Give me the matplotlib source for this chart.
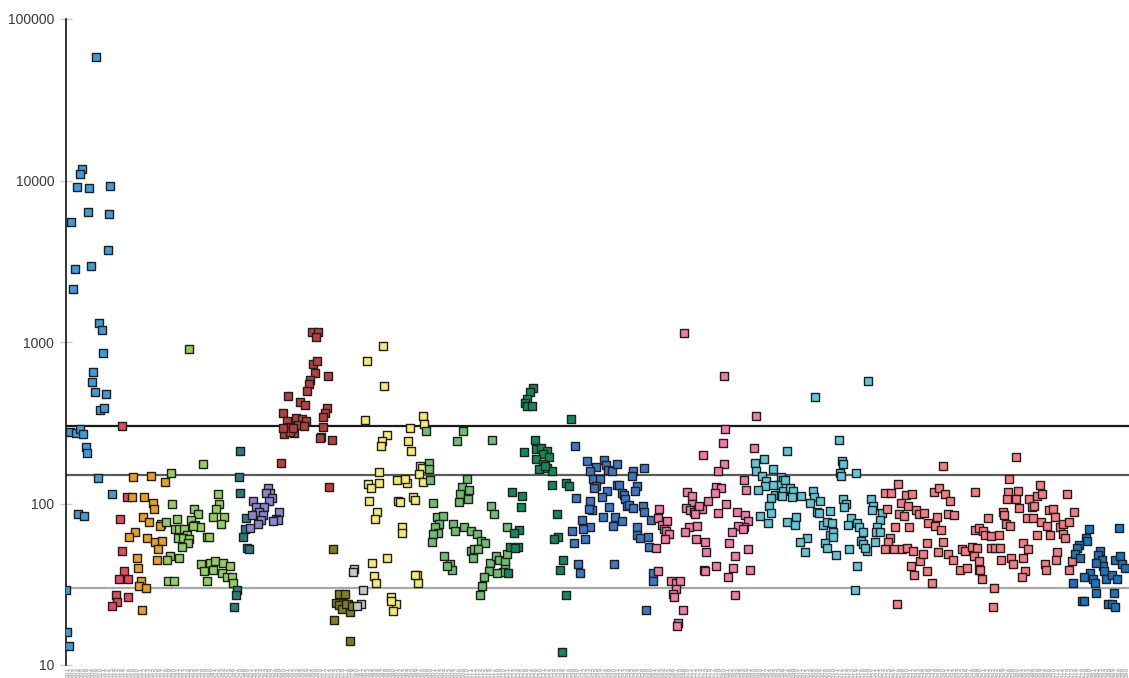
import matplotlib
matplotlib.use("Agg")
import numpy as np
import matplotlib.pyplot as plt
from matplotlib.ticker import FixedLocator, FixedFormatter, NullLocator

# Each array holds (sample index, measured value) pairs for one cluster of samples.
sky = np.array([
    (8.2, 58000), (4.3, 11800), (3.9, 10900), (3.0, 9100), (6.3, 9000), (12.0, 9200),
    (6.0, 6400), (11.7, 6200), (1.4, 5500), (11.4, 3700), (6.8, 2950), (2.4, 2830),
    (1.9, 2130), (8.9, 1310), (9.8, 1190), (10.2, 855), (7.4, 652), (7.2, 565),
    (7.9, 490), (11.0, 476), (9.4, 380), (10.4, 390), (1.1, 277), (2.6, 273),
    (3.8, 289), (4.7, 269), (5.4, 224), (5.6, 205), (8.7, 144), (12.5, 114),
    (3.3, 86), (4.9, 84), (0.0, 29), (0.3, 16), (0.8, 13.1),
])
red = np.array([
    (15.2, 300), (16.6, 110), (14.8, 80), (15.4, 51), (15.8, 38), (14.4, 34),
    (16.8, 34), (13.6, 27), (14.0, 24.4), (12.6, 23.3), (17.0, 26.5),
])
orange = np.array([
    (18.4, 145), (23.2, 149), (27.1, 135), (17.9, 110), (21.4, 110), (23.6, 101),
    (24.1, 93), (21.1, 83), (22.7, 77), (26.0, 75), (25.7, 73), (18.8, 67),
    (17.3, 62), (22.1, 61), (24.4, 58), (26.3, 59), (25.1, 52), (19.3, 46),
    (24.7, 45), (19.6, 40), (20.4, 33), (19.9, 31), (21.9, 30), (20.6, 22),
])
lime = np.array([
    (37.3, 175), (28.6, 155), (29.0, 99), (27.4, 77), (30.2, 80), (29.7, 70),
    (30.9, 70), (32.3, 70), (32.9, 64), (30.5, 61), (32.0, 61), (33.6, 60),
    (33.2, 57), (31.7, 54), (34.9, 92), (36.1, 86), (34.1, 79), (35.2, 74),
    (36.6, 72), (34.6, 73), (41.4, 114), (41.8, 100), (40.9, 92), (43.2, 83),
    (40.0, 83), (42.3, 75), (38.4, 62), (38.9, 62), (30.9, 46), (28.4, 47),
    (27.6, 45), (36.8, 42), (39.3, 43), (40.6, 44), (42.9, 43), (44.7, 41),
    (37.6, 38), (40.2, 39), (42.6, 37), (43.8, 35), (45.2, 35), (45.6, 32),
    (38.6, 33), (27.9, 33), (29.5, 33), (33.5, 900),
])
teal = np.array([
    (47.6, 210), (47.1, 145), (47.5, 116), (49.1, 81), (48.8, 70), (48.2, 62),
    (49.5, 53), (50.0, 52), (46.6, 29), (46.4, 27), (45.8, 23),
])
purple = np.array([
    (55.0, 124), (55.7, 116), (54.6, 116), (56.1, 108), (55.4, 103), (51.1, 103),
    (51.8, 95), (54.1, 95), (52.7, 89), (53.8, 85), (58.2, 89), (50.7, 85),
    (53.2, 79), (52.5, 75), (50.2, 71), (57.3, 80), (57.9, 79), (56.6, 78),
])
maroon = np.array([
    (67.1, 1150), (68.7, 1150), (68.2, 1070), (67.5, 730), (68.6, 760), (67.8, 640),
    (66.7, 580), (66.2, 550), (65.7, 500), (71.6, 620), (60.7, 460), (63.8, 426),
    (65.2, 407), (71.1, 388), (70.7, 361), (70.2, 341), (59.1, 365), (60.2, 322),
    (62.7, 339), (64.3, 335), (65.5, 324), (60.9, 298), (63.4, 306), (64.9, 302),
    (70.1, 298), (59.5, 268), (62.2, 272), (69.6, 259), (69.3, 253), (72.5, 247),
    (58.7, 177), (71.8, 126), (61.1, 278), (61.9, 293), (59.2, 293),
])
olive = np.array([
    (72.9, 52), (74.6, 27.5), (76.1, 27.5), (73.7, 24.3), (75.5, 24.3), (77.0, 23.8),
    (74.6, 23.5), (75.2, 22.1), (77.5, 21.3), (76.5, 24), (77.9, 23.2), (73.2, 19),
    (77.6, 14.1),
])
silver = np.array([
    (78.6, 39.3), (78.2, 37.5), (81.1, 29), (80.5, 24), (79.3, 23.3),
])
yellow = np.array([
    (86.6, 940), (82.0, 760), (86.8, 536), (81.6, 329), (87.5, 266), (86.3, 243),
    (86.0, 228), (85.5, 157), (85.3, 133), (82.5, 132), (83.1, 124), (90.2, 140),
    (90.5, 103), (82.7, 104), (84.9, 88), (84.2, 80), (83.6, 43), (87.7, 46),
    (84.0, 35.5), (84.5, 32), (88.7, 26.5), (89.9, 24), (89.3, 21.5), (88.6, 25),
    (97.4, 350), (97.7, 310), (93.8, 295), (93.3, 243), (94.1, 210), (96.6, 170),
    (97.1, 166), (96.4, 152), (97.3, 136), (92.9, 133), (92.5, 142), (94.6, 110),
    (95.2, 105), (91.1, 102), (91.7, 72), (91.8, 66), (95.7, 36), (96.0, 32),
    (95.2, 36),
])
green = np.array([
    (98.2, 280), (108.2, 280), (106.8, 243), (116.2, 248), (98.9, 179), (99.1, 163),
    (99.3, 140), (109.3, 142), (107.9, 126), (109.9, 121), (107.5, 114), (109.6, 107),
    (107.2, 102), (100.2, 101), (115.9, 97), (116.7, 86), (101.1, 83), (102.8, 84),
    (101.8, 75), (100.6, 72), (101.5, 66), (100.2, 65), (99.8, 58), (105.6, 75),
    (106.1, 68), (108.6, 72), (110.4, 68), (112.0, 65), (113.1, 59), (114.3, 57),
    (120.4, 72), (110.5, 51), (111.3, 52), (112.5, 52), (111.0, 46), (103.0, 47),
    (104.8, 42), (105.3, 39), (103.9, 41), (115.7, 43), (115.3, 38), (114.0, 35),
    (113.6, 31), (113.0, 27), (117.3, 47), (118.1, 45), (119.8, 41), (119.1, 37.5),
    (117.5, 37), (119.8, 44), (120.2, 49),
])
emerald = np.array([
    (127.5, 520), (126.6, 490), (125.7, 445), (125.2, 420), (125.7, 400), (127.2, 400),
    (137.7, 333), (127.9, 247), (128.3, 216), (129.5, 220), (131.1, 211), (125.0, 207),
    (130.2, 203), (131.8, 194), (128.2, 188), (130.0, 176), (129.1, 163), (131.1, 165),
    (132.5, 159), (130.7, 171), (132.7, 130), (136.5, 134), (137.2, 128), (121.6, 117),
    (124.5, 111), (124.1, 95), (134.0, 86), (123.7, 69), (122.3, 66), (134.3, 62),
    (133.1, 60), (121.1, 54), (123.4, 54), (122.5, 53), (135.6, 45), (134.8, 39),
    (136.3, 27), (135.2, 12), (120.7, 37),
])
blue = np.array([
    (146.8, 187), (147.3, 173), (147.9, 162), (148.9, 159), (150.2, 176), (144.6, 168),
    (143.0, 159), (143.8, 141), (145.6, 141), (144.7, 128), (144.0, 124), (147.5, 119),
    (146.1, 110), (143.0, 103), (143.5, 91), (143.0, 72), (150.2, 131), (150.9, 131),
    (151.6, 116), (152.2, 113), (152.5, 106), (153.1, 96), (153.7, 98), (154.7, 94),
    (148.2, 95), (149.8, 82), (151.6, 78), (149.1, 73), (146.4, 82), (154.7, 159),
    (154.5, 148), (157.7, 165), (155.9, 128), (155.2, 119), (157.3, 97), (157.8, 89),
    (159.6, 79), (155.9, 72), (155.7, 64), (156.6, 61), (158.9, 62), (159.1, 54),
    (149.5, 42), (160.1, 37), (160.2, 33), (158.2, 22), (138.9, 228), (142.1, 183),
    (139.2, 108), (142.8, 92), (140.7, 79), (141.0, 70), (138.1, 68), (138.6, 57),
    (141.6, 60), (139.8, 42), (140.1, 37),
])
pink = np.array([
    (161.9, 93), (161.6, 81), (162.5, 74), (164.0, 78), (163.1, 70), (163.7, 68),
    (164.5, 65), (163.4, 60), (160.9, 53), (161.4, 38), (165.0, 33), (166.4, 32),
    (167.6, 33), (166.3, 29.5), (165.5, 27.5), (165.9, 26.5), (168.4, 22), (167.0, 18.2),
    (166.7, 17.5), (169.5, 118), (170.8, 111), (170.9, 99), (169.1, 94), (170.2, 91),
    (171.2, 88), (172.3, 92), (173.6, 92), (172.7, 96), (171.6, 86), (170.0, 72),
    (172.1, 73), (168.9, 67), (171.8, 60), (174.4, 58), (174.7, 50), (175.2, 104),
    (174.1, 39), (179.7, 290), (179.2, 238), (188.2, 350), (187.7, 222), (173.7, 200),
    (179.5, 175), (177.9, 160), (185.1, 140), (185.4, 121), (177.4, 127), (178.8, 124),
    (177.1, 116), (180.0, 100), (177.9, 87), (183.0, 89), (185.2, 85), (186.1, 78),
    (184.9, 72), (183.4, 73), (184.6, 70), (181.6, 67), (180.9, 57), (186.0, 52),
    (182.5, 47), (177.3, 41), (174.3, 38), (181.9, 40), (186.6, 39), (180.7, 35),
    (182.6, 27), (168.5, 1140), (179.6, 615),
])
cyan = np.array([
    (188.0, 177), (190.4, 188), (188.3, 160), (192.9, 163), (189.8, 148), (191.1, 138),
    (195.0, 145), (195.7, 140), (194.3, 131), (192.9, 130), (190.6, 129), (188.8, 122),
    (193.3, 113), (195.1, 113), (192.4, 108), (191.9, 97), (192.2, 87), (189.2, 84),
    (191.5, 76), (196.8, 212), (196.6, 77), (218.9, 575), (204.3, 455), (210.8, 247),
    (211.7, 184), (212.1, 176), (211.1, 154), (211.4, 148), (215.4, 154), (196.1, 140),
    (195.7, 120), (197.5, 124), (198.4, 119), (195.2, 112), (198.1, 109), (200.4, 111),
    (203.7, 120), (204.1, 110), (203.0, 101), (205.7, 104), (204.8, 89), (205.5, 87),
    (208.4, 90), (199.1, 83), (198.9, 74), (206.6, 74), (207.5, 77), (208.9, 76),
    (208.4, 64), (209.3, 67), (212.1, 107), (212.7, 100), (212.2, 95), (214.1, 81),
    (213.4, 74), (215.7, 76), (216.4, 72), (217.5, 67), (219.5, 107), (220.1, 97),
    (219.8, 91), (222.5, 87), (222.1, 79), (221.3, 72), (221.1, 67), (222.1, 67),
    (220.7, 58), (218.6, 51), (216.9, 59), (217.5, 56), (218.0, 53), (213.7, 52),
    (209.3, 62), (202.1, 61), (200.2, 58), (201.6, 50), (207.1, 57), (207.7, 53),
    (210.1, 48), (215.7, 41), (215.3, 29),
])
salmon = np.array([
    (227.1, 132), (223.5, 116), (225.1, 116), (229.2, 113), (230.7, 114), (227.7, 101),
    (229.6, 97), (223.9, 93), (227.3, 86), (228.6, 84), (231.9, 91), (232.8, 86),
    (234.2, 87), (230.1, 72), (226.2, 72), (235.3, 76), (237.1, 73), (238.7, 69),
    (237.5, 83), (236.8, 118), (238.2, 124), (239.8, 114), (241.3, 103), (240.7, 86),
    (242.3, 85), (239.3, 171), (248.0, 118), (224.8, 61), (224.2, 58), (223.5, 52),
    (225.9, 52), (228.2, 52), (229.4, 53), (231.2, 51), (233.0, 44), (230.4, 41),
    (231.4, 36), (235.0, 38), (236.2, 32), (226.6, 24), (233.7, 49), (234.8, 57),
    (239.2, 58), (238.0, 50), (240.7, 49), (242.1, 45), (243.9, 39), (245.9, 40),
    (244.4, 52), (245.3, 51), (247.1, 54), (248.5, 53), (247.6, 47), (249.0, 39),
    (248.0, 69), (249.0, 71),
    (259.2, 193), (257.3, 142), (265.7, 130), (256.9, 117), (259.6, 119), (256.6, 107),
    (259.3, 107), (262.7, 107), (264.8, 111), (266.4, 114), (273.0, 114), (260.1, 94),
    (263.5, 95), (264.1, 97), (268.1, 91), (269.3, 93), (275.0, 89), (255.5, 88),
    (256.0, 85), (251.6, 81), (256.4, 75), (257.5, 73), (262.1, 81), (263.7, 81),
    (266.1, 77), (267.5, 73), (269.8, 83), (271.2, 72), (271.9, 75), (273.7, 77),
    (268.4, 64), (272.1, 65), (272.5, 61), (264.8, 64), (250.3, 68), (250.8, 64),
    (252.3, 63), (254.6, 64), (252.3, 53), (253.5, 53), (254.8, 53), (261.1, 57),
    (262.4, 52), (257.9, 46), (261.1, 46), (255.1, 45), (249.2, 44), (258.4, 42),
    (267.1, 42), (270.3, 50), (270.1, 45), (274.4, 44), (273.5, 39), (267.4, 39),
    (261.7, 38), (260.8, 35), (249.4, 39), (249.8, 34), (253.3, 30), (252.8, 23),
])
darkblue = np.array([
    (279.1, 70), (287.3, 71), (278.2, 61), (278.6, 59), (276.3, 55), (275.8, 53),
    (275.4, 49), (276.5, 46), (282.0, 51), (281.6, 48), (282.5, 45), (282.8, 41),
    (283.2, 38), (283.7, 34), (285.3, 36), (286.3, 45), (287.5, 47), (288.0, 42),
    (288.9, 40), (286.6, 34), (281.1, 43), (279.4, 37), (277.7, 35), (280.2, 34),
    (280.7, 32), (280.9, 28), (274.6, 32), (285.8, 28), (277.2, 25), (277.6, 25),
    (284.2, 24), (285.3, 24), (286.2, 23),
])

clusters = [
    (sky, "#3d9ddb"), (red, "#e8475c"), (orange, "#e9a11e"), (lime, "#92cf5e"),
    (teal, "#2d7c7c"), (purple, "#8a86d0"), (maroon, "#b6403f"), (olive, "#837d1e"),
    (silver, "#c8c8c8"), (yellow, "#f6ec6a"), (green, "#72bd72"), (emerald, "#0f8a58"),
    (blue, "#3e78c5"), (pink, "#f27ba8"), (cyan, "#5ec7da"), (salmon, "#f57c82"),
    (darkblue, "#1b73bd"),
]

n_samples = 290
sample_labels = [f"{i + 1:03d}" for i in range(n_samples)]

limit_values = [300, 150, 30]
limit_colors = ["#1a1a1a", "#5a5a5a", "#a8a8a8"]

y_ticks = [10, 100, 1000, 10000, 100000]
y_tick_labels = ["10", "100", "1000", "10000", "100000"]

W, H = 1129, 678
fig = plt.figure(figsize=(W / 100, H / 100), dpi=100)
ax = fig.add_axes([66 / W, 13 / H, (W - 66) / W, 646 / H])

for value, color in zip(limit_values, limit_colors):
    ax.axhline(value, color=color, linewidth=1.6, zorder=1)

for pts, color in clusters:
    ax.scatter(pts[:, 0], pts[:, 1], marker="s", s=32, c=color,
               edgecolors="#1e1e1e", linewidths=1.0, zorder=3)

ax.set_yscale("log")
ax.set_ylim(10, 100000)
ax.set_xlim(0, n_samples)

ax.yaxis.set_major_locator(FixedLocator(y_ticks))
ax.yaxis.set_major_formatter(FixedFormatter(y_tick_labels))
ax.yaxis.set_minor_locator(NullLocator())
ax.tick_params(axis="y", direction="inout", length=9, width=1.0, color="#cccccc",
               labelsize=10, labelcolor="#3a3a3a", pad=4)
for lbl in ax.get_yticklabels():
    lbl.set_family("Liberation Sans")

# One tiny rotated label per sample along the bottom edge
ax.set_xticks(np.arange(n_samples) + 0.5)
ax.set_xticklabels(sample_labels, rotation=90, fontsize=4, color="#b8b8b8",
                   fontweight="bold")
ax.xaxis.set_minor_locator(NullLocator())
ax.tick_params(axis="x", length=0, pad=1)

for side in ("top", "right", "bottom"):
    ax.spines[side].set_visible(False)
ax.spines["left"].set_color("#111111")
ax.spines["left"].set_linewidth(1.2)

fig.savefig("out.png", dpi=100)
